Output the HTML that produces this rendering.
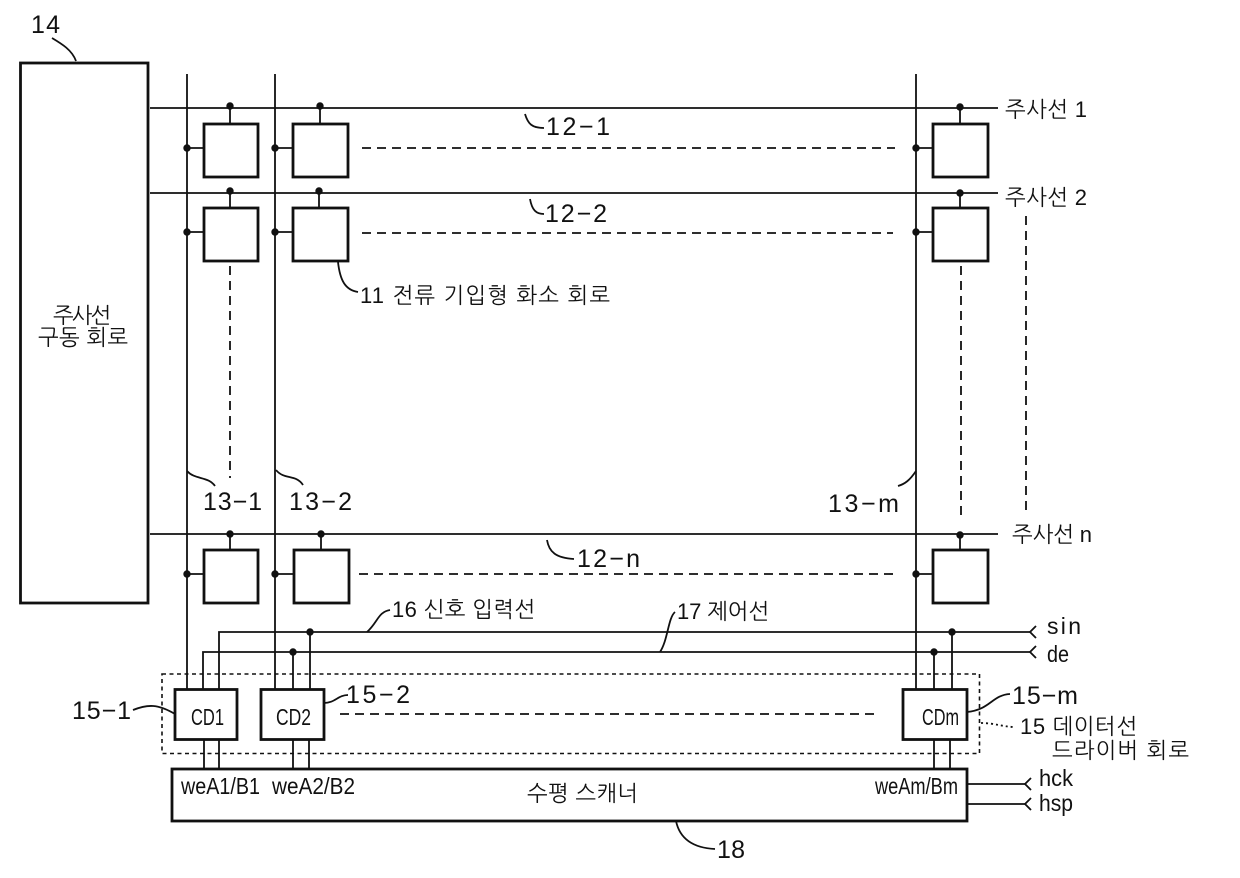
<!DOCTYPE html>
<html><head><meta charset="utf-8"><style>
html,body{margin:0;padding:0;background:#fff;width:1240px;height:878px;overflow:hidden}
svg{display:block}
text{font-family:"Liberation Sans","NanumGothic","Noto Sans CJK KR",sans-serif;fill:#111;font-size:25px}
.k{font-size:22px}
.c{font-size:23px}
.w{font-size:23px}
.l{font-size:23px}
</style></head><body>
<svg width="1240" height="878" viewBox="0 0 1240 878" xmlns="http://www.w3.org/2000/svg">
<g fill="none" stroke="#111" stroke-width="1.8">
<line x1="187" y1="74" x2="187" y2="689"/>
<line x1="275" y1="74" x2="275" y2="689"/>
<line x1="916" y1="74" x2="916" y2="689"/>
<line x1="150" y1="108" x2="998" y2="108"/>
<line x1="150" y1="193" x2="998" y2="193"/>
<line x1="150" y1="534" x2="998" y2="534"/>
<g stroke-width="2.8">
<rect x="20.500" y="63" width="127.500" height="540"/>
<rect x="204" y="124" width="54" height="53"/>
<rect x="293" y="124" width="55" height="53"/>
<rect x="933" y="124" width="55" height="53"/>
<rect x="204" y="208" width="54" height="53"/>
<rect x="293" y="208" width="55" height="53"/>
<rect x="933" y="208" width="55" height="53"/>
<rect x="204" y="550" width="54" height="53"/>
<rect x="294" y="550" width="55" height="53"/>
<rect x="933" y="550" width="55" height="53"/>
<rect x="175" y="689.500" width="62" height="50"/>
<rect x="261" y="689.500" width="63" height="50"/>
<rect x="903" y="689.500" width="64" height="50"/>
<rect x="172" y="769" width="795" height="52"/>
</g>
<path d="M230 108V124M320 108V124M960 108V124M230 193V208M319 193V208M960 193V208M230 534V550M321 534V550M960 534V550"/>
<path d="M187 148H204M275 148H293M916 148H933M187 232H204M275 232H293M916 232H933M187 574H204M275 574H294M916 574H933"/>
<g stroke-dasharray="9 6">
<line x1="362" y1="148" x2="895" y2="148"/>
<line x1="362" y1="233" x2="893" y2="233"/>
<line x1="359" y1="574" x2="893" y2="574"/>
<line x1="340" y1="714" x2="875" y2="714"/>
<line x1="230" y1="266" x2="230" y2="478"/>
<line x1="961" y1="266" x2="961" y2="516"/>
<line x1="1026" y1="216" x2="1026" y2="510"/>
</g>
<rect x="162" y="674" width="817.500" height="79.500" stroke-dasharray="4 3.500" stroke-width="1.600"/>
<path d="M219 689V632H1030M203 689V652H1030"/>
<path d="M293 689V652M310 689V632M934 689V652M952 689V632"/>
<path d="M204 739V769M219 739V769M293 739V769M309 739V769M934 739V769M950 739V769"/>
<path d="M967 784H1025M967 804H1025"/>
<path d="M1036 626l-6 6 6 6M1036 646l-6 6 6 6M1031 778l-6 6 6 6M1031 798l-6 6 6 6"/>
<path d="M76 61C72 50 62 44 52 38"/>
<path d="M525 114C528 124 532 128 544 128"/>
<path d="M530 199C532 210 536 214 544 214"/>
<path d="M547 540C549 552 556 558 574 559"/>
<path d="M338 262C340 280 345 290 358 292"/>
<path d="M187 471C195 480 208 476 215 486"/>
<path d="M276 470C284 480 296 474 303 485"/>
<path d="M916 471C910 480 905 484 898 486"/>
<path d="M367 632C378 622 378 612 390 610"/>
<path d="M660 652C668 640 668 618 675 612"/>
<path d="M133 710C148 704 158 704 175 714"/>
<path d="M324 703C335 703 338 695 348 695"/>
<path d="M967 712C990 710 992 695 1010 694"/>
<path d="M676 821C680 840 695 848 715 849"/>
<path d="M981 723C995 723 1003 727 1015 727" stroke-dasharray="2 3"/>
</g>
<g fill="#111">
<circle cx="230" cy="106" r="3.700"/><circle cx="320" cy="106" r="3.700"/><circle cx="960" cy="107" r="3.700"/>
<circle cx="230" cy="191" r="3.700"/><circle cx="319" cy="191" r="3.700"/><circle cx="960" cy="193" r="3.700"/>
<circle cx="230" cy="534" r="3.700"/><circle cx="321" cy="534" r="3.700"/><circle cx="960" cy="535" r="3.700"/>
<circle cx="187" cy="148" r="3.700"/><circle cx="275" cy="148" r="3.700"/><circle cx="916" cy="148" r="3.700"/>
<circle cx="187" cy="232" r="3.700"/><circle cx="275" cy="232" r="3.700"/><circle cx="916" cy="232" r="3.700"/>
<circle cx="187" cy="574" r="3.700"/><circle cx="275" cy="574" r="3.700"/><circle cx="916" cy="574" r="3.700"/>
<circle cx="293" cy="652" r="3.700"/><circle cx="310" cy="632" r="3.700"/><circle cx="934" cy="652" r="3.700"/><circle cx="952" cy="632" r="3.700"/>
</g>
<text x="31" y="33" textLength="29">14</text>
<text class="k" x="53" y="323" textLength="58">주사선</text>
<text class="k" x="38" y="345" textLength="90">구동 회로</text>
<text class="k" x="1005" y="117" textLength="82">주사선 1</text>
<text class="k" x="1005" y="205" textLength="82">주사선 2</text>
<text class="k" x="1012" y="542" textLength="80">주사선 n</text>
<text x="546" y="135" textLength="64">12−1</text>
<text x="545" y="222" textLength="62">12−2</text>
<text x="577" y="567" textLength="63">12−n</text>
<text class="k" x="360" y="303" textLength="250">11 전류 기입형 화소 회로</text>
<text x="203" y="510" textLength="59">13−1</text>
<text x="289" y="510" textLength="63">13−2</text>
<text x="828" y="512" textLength="71">13−m</text>
<text class="k" x="392" y="617" textLength="143">16 신호 입력선</text>
<text class="k" x="677" y="619" textLength="92">17 제어선</text>
<text class="l" x="1047" y="634" textLength="34">sin</text>
<text class="l" x="1047" y="662" textLength="22" lengthAdjust="spacingAndGlyphs">de</text>
<text x="72" y="719" textLength="59">15−1</text>
<text x="346" y="703" textLength="64">15−2</text>
<text x="1012" y="704" textLength="66">15−m</text>
<text class="c" x="191" y="725" textLength="33" lengthAdjust="spacingAndGlyphs">CD1</text>
<text class="c" x="276" y="725" textLength="35" lengthAdjust="spacingAndGlyphs">CD2</text>
<text class="c" x="922" y="725" textLength="37" lengthAdjust="spacingAndGlyphs">CDm</text>
<text class="k" x="1020" y="734" textLength="117">15 데이터선</text>
<text class="k" x="1052" y="758" textLength="137">드라이버 회로</text>
<text class="w" x="181" y="794" textLength="79" lengthAdjust="spacingAndGlyphs">weA1/B1</text>
<text class="w" x="272" y="794" textLength="83" lengthAdjust="spacingAndGlyphs">weA2/B2</text>
<text class="w" x="875" y="794" textLength="83" lengthAdjust="spacingAndGlyphs">weAm/Bm</text>
<text class="k" x="527" y="801" textLength="111">수평 스캐너</text>
<text class="l" x="1039" y="786" textLength="34" lengthAdjust="spacingAndGlyphs">hck</text>
<text class="l" x="1039" y="811" textLength="34" lengthAdjust="spacingAndGlyphs">hsp</text>
<text x="717" y="858" textLength="28">18</text>
</svg>
</body></html>
